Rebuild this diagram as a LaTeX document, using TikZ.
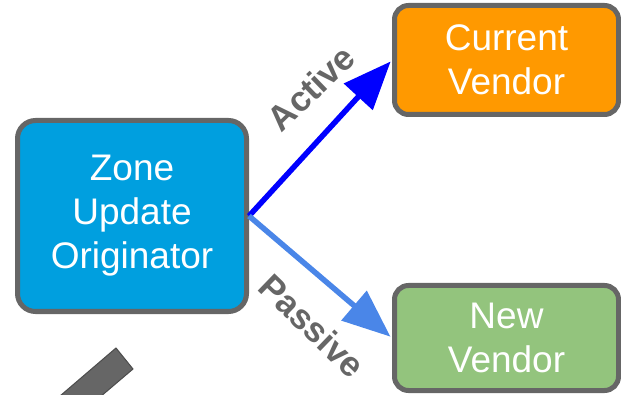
\documentclass[tikz,border=0pt]{standalone}
\usepackage{fontspec}
\setmainfont{Liberation Sans}
\usetikzlibrary{arrows.meta}
\definecolor{edgegray}{HTML}{666666}
\definecolor{zoneblue}{HTML}{009FDF}
\definecolor{vendorange}{HTML}{FF9900}
\definecolor{vendgreen}{HTML}{93C47D}
\definecolor{activeblue}{HTML}{0000FF}
\definecolor{passiveblue}{HTML}{4A86E8}
\tikzset{
  box/.style={draw=edgegray, line width=5pt, rounded corners=18pt,
    text=white, align=center, inner sep=0pt,
    font=\fontsize{37}{44}\selectfont},
  flow/.style={line width=5.5pt,
    -{Triangle[length=48pt,width=38pt]}, shorten >=2pt},
  lab/.style={text=edgegray, font=\bfseries\fontsize{35}{40}\selectfont, inner sep=0pt}
}
\begin{document}
\begin{tikzpicture}[x=1pt, y=-1pt]
  \useasboundingbox (0,0) rectangle (621,395);
  \clip (0,0) rectangle (621,395);

  % partial grey bar in the lower left corner
  \fill[edgegray, draw=black!70, line width=1pt]
    (116,348) -- (133,369) -- (73,420) -- (32,420) -- cycle;

  \node[box, fill=zoneblue, minimum width=229pt, minimum height=191pt]
    (zone) at (132,216) {Zone\\Update\\Originator};
  \node[box, fill=vendorange, rounded corners=14pt, minimum width=224pt, minimum height=109pt]
    (cur) at (506.5,60) {Current\\Vendor};
  \node[box, fill=vendgreen, rounded corners=14pt, minimum width=224pt, minimum height=105pt]
    (new) at (506.5,338) {New\\Vendor};

  \draw[flow, activeblue] (zone.east) -- (cur.west);
  \draw[flow, passiveblue] (zone.east) -- (new.west);

  \node[lab, rotate=44] (act) at (311,88) {Active};
  \node[lab, rotate=-44] (pas) at (312,326) {Passive};
\end{tikzpicture}
\end{document}
